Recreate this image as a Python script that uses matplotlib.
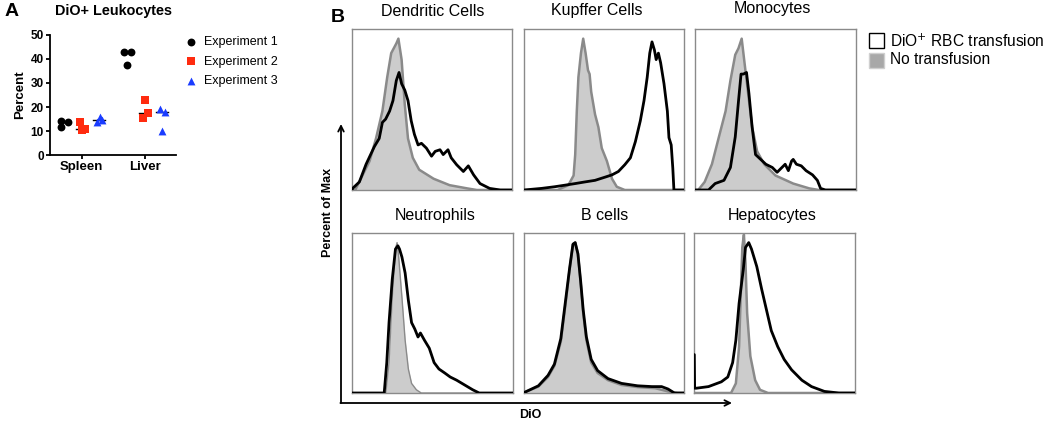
import numpy as np
import matplotlib.pyplot as plt
from matplotlib.patches import Rectangle

plt.rcParams['font.family'] = ['Liberation Sans', 'DejaVu Sans']

# %%
# Panel A data: percent DiO+ leukocytes
tissues = ["Spleen", "Liver"]
experiments = ["Experiment 1", "Experiment 2", "Experiment 3"]
exp1_vals = [[14.3, 11.5, 13.7], [42.8, 42.8, 37.5]]
exp2_vals = [[10.5, 13.8, 11.0], [15.5, 23.0, 17.7]]
exp3_vals = [[13.8, 15.8, 14.5], [19.3, 10.2, 18.0]]

# Panel B data: histograms (x = % of DiO axis, y = percent of max)
hist_titles = ["Dendritic Cells", "Kupffer Cells", "Monocytes",
               "Neutrophils", "B cells", "Hepatocytes"]

dc_ctrl_x = [0, 2, 6.7, 11, 15, 19, 22, 24.5, 27.7, 29, 31, 33, 35, 38, 42, 51, 61, 72, 78, 100]
dc_ctrl_y = [0, 0, 9.4, 18, 32, 49, 70, 85, 91, 94, 81, 53, 32, 20, 12.6, 7, 3, 1, 0, 0]
dc_dio_x = [0, 0.4, 4.6, 8.8, 14, 17, 19, 21, 23.5, 25.6, 27.7, 29.4, 31, 33, 35, 37, 39, 41.3,
            43.4, 46.5, 49.7, 52, 55, 57, 60, 62, 65.4, 69.6, 72.7, 76, 80, 86, 92.7, 100]
dc_dio_y = [0, 1, 5, 16, 27, 32, 42, 44, 49, 55.5, 68, 73, 66, 62, 55.5, 43, 34.6, 28,
            29, 26, 21, 24, 25, 22, 25, 20, 15.7, 11.5, 15, 9.4, 4, 1, 0, 0]

kc_ctrl_x = [0, 21, 27.7, 31, 32, 33, 34, 35.6, 37, 38.5, 40, 41, 42, 44.4, 46.5, 48.6, 51.8, 55, 58, 63, 100]
kc_ctrl_y = [0, 0, 3, 9, 22, 49, 70, 85, 94, 85, 74.4, 72, 61, 47, 39, 26, 18, 7, 2, 0, 0]
kc_dio_x = [0, 11, 19, 25.6, 32, 38, 44.4, 50.7, 55, 59, 63, 66.5, 69.6, 72.7, 75, 77, 78.6, 80,
            81.5, 82.6, 84, 85.4, 87.5, 89.6, 90.6, 92, 93, 93.7, 100]
kc_dio_y = [0, 1, 2, 3, 4, 5, 6, 8, 9.4, 11.5, 15.7, 20, 30, 43, 55.5, 70, 85, 92,
            87, 81, 85, 79, 66, 49, 32.5, 28, 13.6, 0, 0]

mo_ctrl_x = [0, 2, 6, 10.5, 14.6, 19, 22, 25, 27, 29, 31, 33, 35.5, 38.6, 43, 50, 61, 71, 77, 100]
mo_ctrl_y = [0, 0, 5, 16, 32, 49, 68, 84, 88, 94, 77, 60, 39, 24, 16, 9, 4, 1, 0, 0]
mo_dio_x = [0, 8.4, 12.5, 18, 22, 25, 27, 28.6, 30, 32, 33.5, 35.5, 37.6, 40.8, 44, 48, 51, 54,
            56, 58, 60, 61, 63, 66, 69, 73, 76, 78, 81, 100]
mo_dio_y = [0, 0, 4, 6, 14, 33, 55, 72, 72, 73, 60, 39, 22, 19, 16, 14, 11, 14,
            16, 12, 18, 19, 16, 15, 12, 9.4, 6, 1, 0, 0]

ne_ctrl_x = [0, 21, 23, 25, 27, 28, 29, 31, 33, 35, 37, 40, 43, 100]
ne_ctrl_y = [0, 0, 19, 60, 90, 94, 85, 60, 33, 15, 6, 2, 0, 0]
ne_dio_x = [0, 20, 21.6, 23, 25, 27, 28.5, 29.5, 31, 33, 35, 37, 39, 41, 42.5, 45, 48, 51,
            54, 57.6, 61, 65, 70, 75, 79, 100]
ne_dio_y = [0, 0, 19, 44, 71, 90, 92, 90, 85, 75, 58, 44, 40, 35, 37.5, 33, 28, 19,
            15, 12.5, 10, 8, 5, 2, 0, 0]

bc_ctrl_x = [0, 0.5, 9, 15, 19, 23, 26, 28.5, 30.6, 32, 33.7, 35.4, 37, 39, 42, 46, 52.5,
             61, 71, 82, 90, 96, 100]
bc_ctrl_y = [0, 0.5, 4, 10, 17, 32, 56, 77, 93, 94, 87, 69, 50, 33, 19, 12.5, 8,
             5, 3.7, 3, 1, 0, 0]
bc_dio_x = [0, 0.5, 9, 15, 19, 23, 26, 28.5, 30.6, 32, 33.7, 35.4, 37, 39, 42, 46, 52.5,
            61, 71, 80, 86, 90, 94, 100]
bc_dio_y = [0, 0.5, 4.5, 11, 18, 34, 58, 78, 93, 94, 87, 70, 52, 35, 21, 14, 9,
            6, 4.5, 4, 4, 2.5, 0, 0]

he_ctrl_x = [0, 23, 26, 28, 29, 30, 31, 32, 33, 35, 38, 41, 46, 100]
he_ctrl_y = [0, 0, 6, 29, 60, 91, 99, 81, 50, 23, 8, 2, 0, 0]
he_dio_x = [0, 0.2, 0.4, 1.5, 9, 17, 21, 24, 26, 28, 30.6, 32, 34, 35.7, 39, 42, 45, 48,
            52, 56, 60.6, 67, 73, 81, 90, 100]
he_dio_y = [24, 24, 3, 3, 4, 7, 10, 19, 33, 56, 77, 91, 94, 90, 79, 65, 52, 39,
            29, 21, 14.5, 8, 4, 1, 0, 0]

ctrl_curves = [(dc_ctrl_x, dc_ctrl_y), (kc_ctrl_x, kc_ctrl_y), (mo_ctrl_x, mo_ctrl_y),
               (ne_ctrl_x, ne_ctrl_y), (bc_ctrl_x, bc_ctrl_y), (he_ctrl_x, he_ctrl_y)]
dio_curves = [(dc_dio_x, dc_dio_y), (kc_dio_x, kc_dio_y), (mo_dio_x, mo_dio_y),
              (ne_dio_x, ne_dio_y), (bc_dio_x, bc_dio_y), (he_dio_x, he_dio_y)]

# %%
fig = plt.figure(figsize=(10.5, 4.22), dpi=100)
W, H = 1050, 422


def fbox(x0, y0, x1, y1):
    # pixel box (top-left origin) -> figure fraction rect
    return [x0 / W, 1 - y1 / H, (x1 - x0) / W, (y1 - y0) / H]


# Panel A
axA = fig.add_axes(fbox(50, 35, 176, 155))
offsets = [-0.27, 0.0, 0.28]
jitters = [[[-0.05, -0.05, 0.05], [-0.05, 0.05, 0.0]],
           [[0.0, -0.03, 0.05], [-0.03, 0.01, 0.05]],
           [[-0.04, 0.01, 0.04], [-0.04, 0.0, 0.04]]]
colors = ["black", "#ff2b0f", "#1a3cff"]
markers = ["o", "s", "^"]
for k, vals in enumerate([exp1_vals, exp2_vals, exp3_vals]):
    for t in range(len(tissues)):
        xs = t + offsets[k] + np.array(jitters[k][t])
        axA.scatter(xs, vals[t], s=32, marker=markers[k], color=colors[k],
                    linewidths=0, zorder=3, label=experiments[k] if t == 0 else None)
        med = np.median(vals[t])
        axA.plot([t + offsets[k] - 0.09, t + offsets[k] + 0.09], [med, med],
                 color="black", lw=1.0, zorder=2)
axA.set_xlim(-0.5, 1.5)
axA.set_ylim(0, 50)
axA.set_yticks([0, 10, 20, 30, 40, 50])
axA.set_xticks([0, 1])
axA.set_xticklabels(tissues, fontsize=9.5, fontweight="bold")
for lab in axA.get_yticklabels():
    lab.set_fontweight("bold")
    lab.set_fontsize(8.5)
axA.tick_params(axis="both", width=1.3, length=3, pad=1.5)
axA.set_ylabel("Percent", fontsize=9.5, fontweight="bold", labelpad=3)
for s in ["top", "right"]:
    axA.spines[s].set_visible(False)
for s in ["left", "bottom"]:
    axA.spines[s].set_linewidth(1.3)
fig.text(55 / W, 1 - 11 / H, "DiO+ Leukocytes", fontsize=10.4, fontweight="bold",
         ha="left", va="center")
axA.legend(loc="upper left", bbox_to_anchor=(1.02, 1.035), frameon=False, fontsize=9,
           handletextpad=0.4, labelspacing=0.62, borderaxespad=0, handlelength=1.2,
           markerscale=1.0)
fig.text(5 / W, 1 - 12 / H, "A", fontsize=14, fontweight="bold", va="center", ha="left")

# Panel B
box_px = [(352, 29, 512, 190), (524, 29, 684, 190), (695, 29, 856, 190),
          (352, 233, 513, 393), (524, 233, 684, 393), (694, 233, 855, 393)]
title_px = [(433, 12), (597, 10), (772, 9), (435, 216), (605, 216), (772, 216)]
for i, (x0, y0, x1, y1) in enumerate(box_px):
    ax = fig.add_axes(fbox(x0, y0, x1, y1))
    cx, cy = ctrl_curves[i]
    dx, dy = dio_curves[i]
    ax.fill_between(cx, cy, 0, color="#cccccc", lw=0, zorder=1)
    ax.plot(cx, cy, color="#8a8a8a", lw=1.0 if i == 3 else 1.8, zorder=2)
    ax.plot(dx, dy, color="black", lw=2.0, zorder=3)
    ax.set_xlim(0, 100)
    ax.set_ylim(0, 100)
    ax.set_xticks([])
    ax.set_yticks([])
    for s in ax.spines.values():
        s.set_color("#8a8a8a")
        s.set_linewidth(1.0)
    tx, ty = title_px[i]
    fig.text(tx / W, 1 - ty / H, hist_titles[i], fontsize=11.5, ha="center", va="center")

fig.text(331 / W, 1 - 18 / H, "B", fontsize=14, fontweight="bold", va="center", ha="left")

# big axis arrows
plt.annotate("", xy=(341 / W, 1 - 124 / H), xytext=(341 / W, 1 - 403 / H),
             xycoords="figure fraction",
             arrowprops=dict(arrowstyle="->", lw=1.3, color="black", shrinkA=0, shrinkB=0))
plt.annotate("", xy=(732 / W, 1 - 403 / H), xytext=(340.4 / W, 1 - 403 / H),
             xycoords="figure fraction",
             arrowprops=dict(arrowstyle="->", lw=1.3, color="black", shrinkA=0, shrinkB=0))
fig.text(328 / W, 1 - 212 / H, "Percent of Max", rotation=90, fontsize=9,
         fontweight="bold", ha="center", va="center")
fig.text(530 / W, 1 - 415 / H, "DiO", fontsize=9, fontweight="bold", ha="center", va="center")

# legend for panel B
fig.add_artist(Rectangle((869 / W, 1 - 48 / H), 15 / W, 15 / H, transform=fig.transFigure,
                         facecolor="white", edgecolor="black", lw=1.0))
fig.add_artist(Rectangle((869 / W, 1 - 68 / H), 15 / W, 15 / H, transform=fig.transFigure,
                         facecolor="#a8a8a8", edgecolor="#cfcfcf", lw=1.0))
fig.text(890 / W, 1 - 41 / H, "DiO$^{+}$ RBC transfusion", fontsize=11.2, va="center", ha="left")
fig.text(890 / W, 1 - 60 / H, "No transfusion", fontsize=11.2, va="center", ha="left")

fig.savefig("out.png", dpi=100)
